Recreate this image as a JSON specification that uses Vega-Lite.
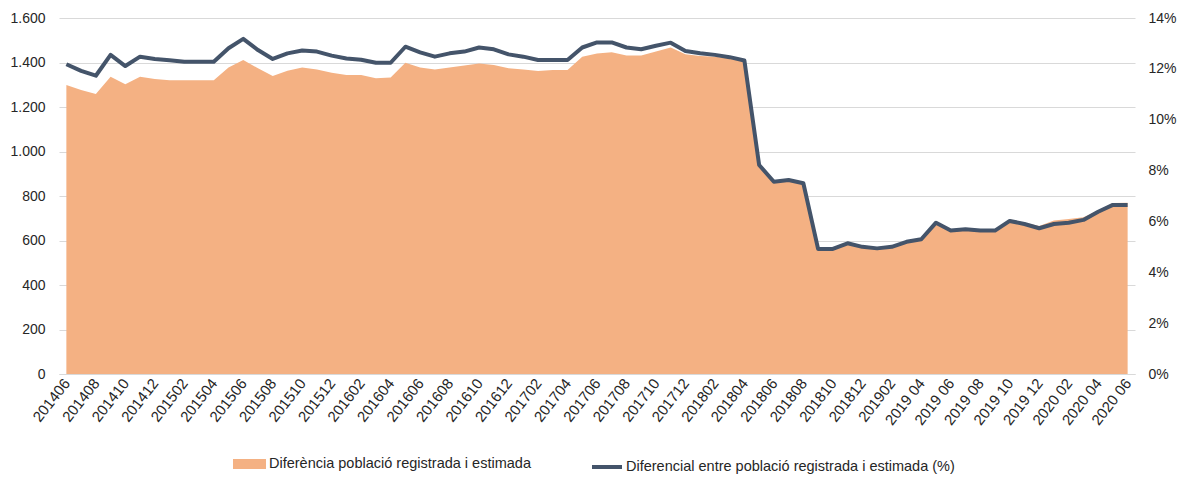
{
  "$schema": "https://vega.github.io/schema/vega-lite/v6.json",
  "width": 1076,
  "height": 356,
  "autosize": "none",
  "padding": {"left": 59, "top": 18, "right": 50, "bottom": 103},
  "config": {"view": {"stroke": null}, "font": "Liberation Sans"},
  "data": {
    "values": [
      {"m": "201406", "dif": 1299, "pct": 12.18},
      {"m": "201407", "dif": 1276, "pct": 11.92},
      {"m": "201408", "dif": 1258, "pct": 11.73},
      {"m": "201409", "dif": 1336, "pct": 12.55},
      {"m": "201410", "dif": 1302, "pct": 12.11},
      {"m": "201411", "dif": 1336, "pct": 12.48},
      {"m": "201412", "dif": 1326, "pct": 12.39},
      {"m": "201501", "dif": 1320, "pct": 12.34},
      {"m": "201502", "dif": 1320, "pct": 12.28},
      {"m": "201503", "dif": 1320, "pct": 12.28},
      {"m": "201504", "dif": 1320, "pct": 12.28},
      {"m": "201505", "dif": 1377, "pct": 12.81},
      {"m": "201506", "dif": 1411, "pct": 13.18},
      {"m": "201507", "dif": 1374, "pct": 12.74},
      {"m": "201508", "dif": 1339, "pct": 12.39},
      {"m": "201509", "dif": 1363, "pct": 12.61},
      {"m": "201510", "dif": 1377, "pct": 12.72},
      {"m": "201511", "dif": 1369, "pct": 12.68},
      {"m": "201512", "dif": 1354, "pct": 12.52},
      {"m": "201601", "dif": 1344, "pct": 12.41},
      {"m": "201602", "dif": 1344, "pct": 12.36},
      {"m": "201603", "dif": 1329, "pct": 12.24},
      {"m": "201604", "dif": 1333, "pct": 12.24},
      {"m": "201605", "dif": 1399, "pct": 12.87},
      {"m": "201606", "dif": 1377, "pct": 12.65},
      {"m": "201607", "dif": 1369, "pct": 12.48},
      {"m": "201608", "dif": 1377, "pct": 12.61},
      {"m": "201609", "dif": 1386, "pct": 12.68},
      {"m": "201610", "dif": 1396, "pct": 12.84},
      {"m": "201611", "dif": 1389, "pct": 12.77},
      {"m": "201612", "dif": 1374, "pct": 12.57},
      {"m": "201701", "dif": 1369, "pct": 12.48},
      {"m": "201702", "dif": 1362, "pct": 12.35},
      {"m": "201703", "dif": 1366, "pct": 12.35},
      {"m": "201704", "dif": 1366, "pct": 12.35},
      {"m": "201705", "dif": 1426, "pct": 12.84},
      {"m": "201706", "dif": 1441, "pct": 13.04},
      {"m": "201707", "dif": 1446, "pct": 13.04},
      {"m": "201708", "dif": 1431, "pct": 12.84},
      {"m": "201709", "dif": 1431, "pct": 12.77},
      {"m": "201710", "dif": 1449, "pct": 12.91},
      {"m": "201711", "dif": 1467, "pct": 13.03},
      {"m": "201712", "dif": 1437, "pct": 12.70},
      {"m": "201801", "dif": 1429, "pct": 12.61},
      {"m": "201802", "dif": 1426, "pct": 12.55},
      {"m": "201803", "dif": 1419, "pct": 12.46},
      {"m": "201804", "dif": 1408, "pct": 12.33},
      {"m": "201805", "dif": 940, "pct": 8.22},
      {"m": "201806", "dif": 864, "pct": 7.56},
      {"m": "201807", "dif": 872, "pct": 7.63},
      {"m": "201808", "dif": 857, "pct": 7.50},
      {"m": "201809", "dif": 562, "pct": 4.92},
      {"m": "201810", "dif": 562, "pct": 4.92},
      {"m": "201811", "dif": 587, "pct": 5.14},
      {"m": "201812", "dif": 571, "pct": 5.00},
      {"m": "201901", "dif": 565, "pct": 4.94},
      {"m": "201902", "dif": 571, "pct": 5.00},
      {"m": "201903", "dif": 594, "pct": 5.20},
      {"m": "2019 04", "dif": 606, "pct": 5.30},
      {"m": "2019 05", "dif": 680, "pct": 5.95},
      {"m": "2019 06", "dif": 645, "pct": 5.64},
      {"m": "2019 07", "dif": 650, "pct": 5.69},
      {"m": "2019 08", "dif": 645, "pct": 5.64},
      {"m": "2019 09", "dif": 645, "pct": 5.64},
      {"m": "2019 10", "dif": 695, "pct": 6.02},
      {"m": "2019 11", "dif": 680, "pct": 5.90},
      {"m": "2019 12", "dif": 665, "pct": 5.73},
      {"m": "2020 01", "dif": 690, "pct": 5.90},
      {"m": "2020 02", "dif": 697, "pct": 5.95},
      {"m": "2020 03", "dif": 705, "pct": 6.06},
      {"m": "2020 04", "dif": 735, "pct": 6.38},
      {"m": "2020 05", "dif": 768, "pct": 6.65},
      {"m": "2020 06", "dif": 770, "pct": 6.65}
    ]
  },
  "encoding": {
    "x": {
      "field": "m",
      "type": "ordinal",
      "sort": null,
      "scale": {"type": "point", "padding": 0.5},
      "axis": {
        "title": null,
        "values": ["201406","201408","201410","201412","201502","201504","201506","201508","201510","201512","201602","201604","201606","201608","201610","201612","201702","201704","201706","201708","201710","201712","201802","201804","201806","201808","201810","201812","201902","2019 04","2019 06","2019 08","2019 10","2019 12","2020 02","2020 04","2020 06"],
        "labelAngle": -52,
        "labelFontSize": 15,
        "labelColor": "#262626",
        "ticks": false,
        "domainColor": "#d9d9d9",
        "labelPadding": 6,
        "labelOverlap": false,
        "grid": false
      }
    }
  },
  "layer": [
    {
      "mark": {"type": "area", "color": "#F4B183"},
      "encoding": {
        "y": {
          "field": "dif",
          "type": "quantitative",
          "scale": {"domain": [0, 1600]},
          "axis": {
            "title": null,
            "values": [0, 200, 400, 600, 800, 1000, 1200, 1400, 1600],
            "labelExpr": "replace(format(datum.value, ','), ',', '.')",
            "domain": false,
            "ticks": false,
            "grid": true,
            "gridColor": "#d9d9d9",
            "labelFontSize": 14,
            "labelColor": "#262626",
            "labelPadding": 14
          }
        },
        "fill": {
          "datum": "Diferència població registrada i estimada",
          "type": "nominal",
          "scale": {"range": ["#F4B183"]},
          "legend": {
            "orient": "none",
            "legendX": 174,
            "legendY": 429.5,
            "title": null,
            "symbolType": "M-1,-0.3H1V0.3H-1Z",
            "symbolSize": 1089,
            "symbolStrokeWidth": 0,
            "labelFontSize": 14.5,
            "labelLimit": 0,
            "labelColor": "#262626",
            "labelOffset": 3
          }
        }
      }
    },
    {
      "mark": {"type": "line", "strokeWidth": 4, "color": "#44546A", "strokeJoin": "round"},
      "encoding": {
        "y": {
          "field": "pct",
          "type": "quantitative",
          "scale": {"domain": [0, 14]},
          "axis": {
            "orient": "right",
            "title": null,
            "values": [0, 2, 4, 6, 8, 10, 12, 14],
            "labelExpr": "datum.value + '%'",
            "domain": false,
            "ticks": false,
            "grid": false,
            "labelFontSize": 14,
            "labelColor": "#262626",
            "labelPadding": 13
          }
        },
        "stroke": {
          "datum": "Diferencial entre població registrada i estimada (%)",
          "type": "nominal",
          "scale": {"range": ["#44546A"]},
          "legend": {
            "orient": "none",
            "legendX": 531,
            "legendY": 432,
            "title": null,
            "symbolType": "stroke",
            "symbolSize": 900,
            "symbolStrokeWidth": 4,
            "labelFontSize": 14.5,
            "labelLimit": 0,
            "labelColor": "#262626",
            "labelOffset": 2
          }
        }
      }
    }
  ],
  "resolve": {"scale": {"y": "independent", "fill": "independent", "stroke": "independent"}}
}
